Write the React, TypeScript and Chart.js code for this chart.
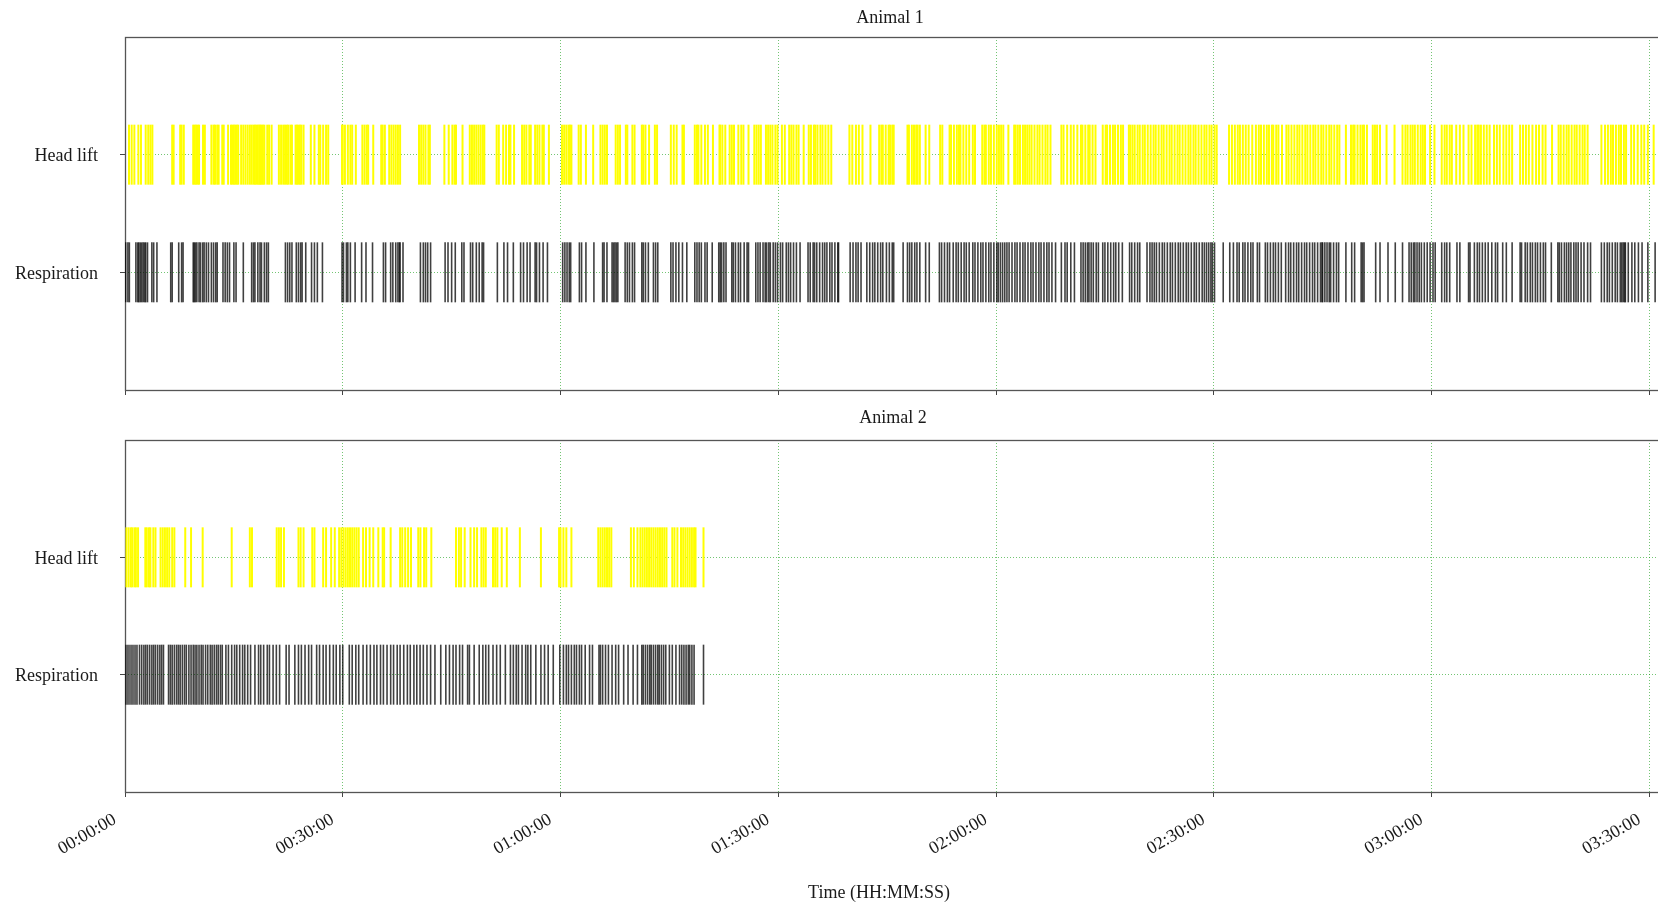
import React, { useEffect, useRef } from "react";
import { Chart, registerables } from "chart.js";

Chart.register(...registerables);

// ---------- data (times in minutes from start) ----------
const ROW_LABELS = ["Respiration", "Head lift"]; // y = 1, y = 2
const X_TICK_MINUTES = [0, 30, 60, 90, 120, 150, 180, 210];
const X_TICK_LABELS = ["00:00:00", "00:30:00", "01:00:00", "01:30:00", "02:00:00", "02:30:00", "03:00:00", "03:30:00"];
const X_MAX = 212.85;

const A1_HEAD = [
  0.55, 0.92, 1.29, 1.84, 2.2, 2.85, 3.2, 3.5, 3.77, 6.5, 6.7, 7.6, 7.8, 8.1,
  9.4, 9.6, 9.8, 10.0, 10.2, 10.75, 11.0, 11.9, 12.2, 12.4, 12.7, 12.9, 13.4, 13.6, 14.2, 14.6, 14.8, 15.0, 15.2, 15.4, 15.6,
  16.0, 16.3, 16.6, 16.9, 17.2, 17.45, 17.7, 17.9, 18.1, 18.3, 18.5, 18.65, 18.8, 19.0, 19.2, 19.6, 19.85, 20.2,
  21.2, 21.5, 21.8, 22.05, 22.3, 22.5, 22.8, 23.0, 23.5, 23.7, 23.9, 24.1, 24.3, 24.6, 25.6, 26.1, 26.7, 26.9, 27.3, 27.7, 28.0,
  29.9, 30.0, 30.3, 30.7, 31.05, 31.3, 31.8, 32.7, 33.0, 33.3, 33.5, 34.2, 35.3, 35.5, 35.8, 36.4, 36.7, 37.0, 37.3, 37.6, 37.9,
  40.5, 40.8, 41.1, 41.4, 41.8, 42.0, 44.0, 44.6, 45.1, 45.4, 45.6, 46.5, 47.5, 47.8, 48.1, 48.4, 48.7, 49.0, 49.3, 49.5, 51.2, 51.5,
  52.1, 52.5, 52.9, 53.1, 53.6, 54.7, 55.0, 55.3, 55.7, 55.9, 56.5, 56.8, 57.1, 57.5, 57.7, 58.4,
  60.2, 60.5, 60.8, 61.1, 61.3, 61.5, 62.5, 62.8, 63.5, 64.5, 65.5, 65.8, 66.1, 66.4, 67.6, 67.9, 68.2, 69.0, 69.2, 69.9, 70.2,
  71.2, 71.4, 71.7, 72.2, 73.0, 73.3, 75.2, 75.6, 76.0, 76.8, 77.0, 78.5, 78.8, 79.0, 79.4, 79.9, 80.3, 81.0, 81.9, 82.0, 82.3, 82.7,
  83.3, 83.6, 83.9, 84.5, 84.9, 85.2, 85.9, 86.7, 87.0, 87.3, 87.6, 88.3, 88.6, 88.9, 89.2, 89.6, 89.9, 90.5, 90.9, 91.5, 91.8, 92.1,
  92.5, 92.8, 93.5, 94.2, 94.5, 94.9, 95.1, 95.4, 95.8, 96.1, 96.5, 96.9, 97.3, 99.8, 100.2, 100.7, 101.1, 101.6, 102.7, 103.9, 104.2,
  104.4, 104.8, 105.2, 105.4, 105.7, 105.9, 107.8, 108.0, 108.4, 108.7, 109.0, 109.2, 109.5, 110.3, 110.8, 112.3, 112.6,
  113.6, 113.8, 114.2, 114.6, 114.9, 115.1, 115.5, 115.9, 116.3, 116.8, 117.1, 118.1, 118.4, 118.6, 119.0, 119.3, 119.7, 120.1, 120.4,
  120.7, 121.0, 121.7, 122.5, 122.7, 123.0, 123.3, 123.7, 124.0, 124.3, 124.6, 124.9, 125.3, 125.7, 126.0, 126.4, 126.8, 127.1, 127.5,
  129.0, 129.3, 129.8, 130.3, 130.7, 131.2, 131.7, 131.9, 132.3, 132.7, 132.9, 133.3, 133.7, 134.7, 135.1, 135.3, 135.7, 136.1, 136.4,
  136.8, 137.2, 137.5, 138.3, 138.5, 138.8, 139.1, 139.5, 139.8, 140.2, 140.5, 140.9, 141.3, 141.7, 142.0, 142.4, 142.8, 143.1, 143.5,
  143.9, 144.2, 144.6, 145.0, 145.3, 145.7, 146.1, 146.5, 146.8, 147.2, 147.5, 147.9, 148.3, 148.7, 149.0, 149.4, 149.7, 150.1, 150.4,
  152.1, 152.5, 152.9, 153.3, 153.6, 154.0, 154.4, 154.8, 155.3, 155.8, 156.2, 156.5, 156.9, 157.3, 157.6, 158.0, 158.2, 158.6, 158.9,
  159.4, 160.0, 160.3, 160.7, 161.1, 161.5, 161.8, 162.2, 162.6, 162.9, 163.3, 163.7, 164.0, 164.4, 164.8, 165.1, 165.5, 165.9, 166.2,
  166.6, 167.0, 167.3, 168.2, 168.9, 169.2, 169.4, 169.8, 170.2, 170.5, 170.7, 171.1, 171.9, 172.2, 172.5, 172.9, 173.8, 174.9,
  176.0, 176.4, 176.7, 177.1, 177.4, 177.7, 178.1, 178.5, 178.8, 179.1, 179.8, 180.4, 181.4, 181.8, 182.1, 182.5, 182.8, 183.4, 183.9,
  184.4, 185.1, 185.5, 186.0, 186.3, 186.5, 186.8, 187.2, 187.6, 188.0, 188.6, 189.0, 189.4, 189.9, 190.3, 190.7, 191.1, 192.2, 192.6,
  193.0, 193.4, 193.9, 194.4, 194.8, 195.3, 195.7, 196.6, 197.5, 197.8, 198.2, 198.6, 198.9, 199.3, 199.7, 200.0, 200.4, 200.8, 201.1,
  201.5, 203.4, 203.9, 204.3, 204.7, 205.0, 205.4, 205.8, 206.1, 206.5, 206.8, 207.5, 207.9, 208.4, 208.9, 209.3, 209.8, 210.6,
];

const A1_RESP = [
  0.1, 0.4, 0.6, 1.5, 1.75, 1.9, 2.1, 2.3, 2.5, 2.7, 2.85, 3.1, 3.7, 3.95, 4.4, 6.3, 6.5, 7.4, 7.8, 8.0,
  9.4, 9.55, 9.7, 9.9, 10.2, 10.4, 10.7, 10.9, 11.2, 11.5, 11.9, 12.2, 12.5, 12.7, 13.5, 13.8, 14.1, 14.4, 15.0, 15.3, 16.3,
  17.45, 17.7, 17.9, 18.3, 18.6, 18.8, 19.2, 19.5, 19.75, 22.1, 22.4, 22.7, 23.0, 23.6, 23.9, 24.2, 24.4, 24.9, 25.7, 26.1, 26.5, 27.2,
  29.9, 30.1, 30.5, 30.7, 31.05, 31.7, 32.6, 33.2, 34.1, 35.6, 35.9, 36.6, 36.9, 37.3, 37.6, 37.8, 37.9, 38.3,
  40.7, 41.1, 41.4, 41.7, 42.1, 44.1, 44.5, 45.0, 45.5, 46.4, 46.7, 47.6, 47.9, 48.4, 48.8, 49.2, 49.4, 51.3,
  52.2, 52.7, 53.5, 54.5, 54.9, 55.4, 55.8, 56.5, 56.7, 57.1, 57.6, 58.2, 60.3, 60.6, 60.9, 61.2, 61.4, 62.6, 62.9, 63.5, 64.6,
  65.8, 66.0, 66.4, 67.1, 67.3, 67.5, 67.7, 67.9, 68.9, 69.2, 69.5, 69.9, 70.2, 71.2, 71.4, 71.7, 72.1, 72.8, 73.1, 73.4,
  75.2, 75.5, 75.9, 76.3, 76.8, 77.4, 78.5, 78.8, 79.1, 79.4, 79.9, 80.2, 80.9, 81.8, 82.0, 82.2, 82.5, 82.8, 83.6, 83.8, 84.1,
  84.5, 84.8, 85.3, 85.7, 85.9, 86.9, 87.2, 87.5, 87.9, 88.2, 88.4, 88.7, 88.9, 89.3, 89.6, 89.9, 90.3, 90.6, 91.1, 91.4, 91.7,
  92.1, 92.5, 93.0, 94.1, 94.4, 94.8, 95.0, 95.3, 95.7, 96.1, 96.4, 96.7, 97.1, 97.4, 97.8, 98.2, 98.3,
  99.9, 100.3, 100.7, 101.0, 101.4, 102.2, 102.6, 103.0, 103.3, 103.7, 104.1, 104.4, 104.9, 105.3, 105.7, 105.9,
  107.2, 107.8, 108.1, 108.4, 108.8, 109.1, 109.5, 110.3, 110.8,
  112.2, 112.5, 112.9, 113.3, 113.6, 114.1, 114.5, 114.8, 115.2, 115.6, 115.9, 116.3, 116.8, 117.1, 117.5, 117.9, 118.2, 118.6,
  119.0, 119.3, 119.7, 120.1, 120.3, 120.6, 120.9, 121.2, 121.5, 121.8, 122.2, 122.6, 122.9, 123.3, 123.7, 124.0, 124.4, 124.8,
  125.1, 125.5, 125.9, 126.2, 126.6, 127.0, 127.3, 127.7, 128.2,
  129.0, 129.5, 129.8, 130.3, 130.8, 131.7, 132.0, 132.3, 132.6, 132.8, 133.1, 133.4, 133.8, 134.1, 134.7, 135.0, 135.4, 135.8,
  136.2, 136.5, 136.9, 137.4, 138.4, 138.7, 139.1, 139.5, 139.8, 140.8, 141.2, 141.5, 141.8, 142.1, 142.5, 142.9, 143.2, 143.6,
  144.0, 144.3, 144.7, 145.1, 145.4, 145.8, 146.2, 146.5, 146.9, 147.3, 147.6, 148.0, 148.4, 148.7, 149.0, 149.3, 149.6, 149.8, 150.1,
  151.3, 152.2, 152.7, 153.2, 153.5, 154.0, 154.3, 154.7, 155.1, 155.4, 156.0,
  156.3, 157.1, 157.4, 157.8, 158.2, 158.5, 158.9, 159.3, 159.9, 160.3, 160.6, 161.0, 161.4, 161.7, 162.1, 162.5, 162.8, 163.2,
  163.6, 163.9, 164.3, 164.7, 164.9, 165.0, 165.3, 165.6, 165.9, 166.1, 166.5, 166.9, 167.2,
  168.2, 169.0, 169.4, 170.3, 170.5, 170.7, 172.3, 172.9, 174.0, 175.0, 176.0, 176.9, 177.2, 177.5, 177.7, 178.0, 178.3, 178.6,
  179.0, 179.4, 179.8, 180.2, 180.5, 181.4, 181.8, 182.1, 182.5, 183.5, 183.9, 185.1, 185.3, 185.9, 186.3, 186.6, 187.0, 187.4,
  187.8, 188.3, 188.8, 189.1, 189.8, 190.3, 191.1, 192.2, 192.4, 192.9, 193.2, 193.6, 193.9, 194.3, 194.6, 195.0, 195.4, 195.7,
  196.5, 197.4, 197.6, 197.9, 198.3, 198.6, 198.9, 199.2, 199.6, 199.9, 200.2, 200.6, 201.0, 201.5, 201.9,
  203.4, 203.8, 204.2, 204.5, 204.9, 205.3, 205.6, 206.0, 206.2, 206.4, 206.6, 206.7, 207.1, 207.6, 208.0, 208.5, 209.0, 209.8, 210.8,
];

const A2_HEAD = [
  0.2, 0.5, 0.8, 1.0, 1.3, 1.5, 1.8, 2.8, 3.0, 3.3, 3.5, 3.9, 4.2, 4.9, 5.2, 5.5, 5.8, 6.1, 6.5, 6.8, 8.3, 9.1, 10.7,
  14.7, 17.2, 17.5, 20.9, 21.2, 21.5, 21.9, 23.9, 24.2, 24.6, 25.8, 26.1, 27.3, 27.7, 28.4, 28.9,
  29.5, 29.8, 30.1, 30.4, 30.7, 31.0, 31.3, 31.6, 31.9, 32.2, 32.8, 33.2, 33.7, 34.2, 34.9, 35.5, 35.7, 36.6,
  37.9, 38.2, 38.6, 39.0, 39.4, 40.4, 40.7, 41.2, 41.5, 42.2, 45.6, 46.0, 46.3, 46.8, 47.6, 48.1, 48.5, 49.1, 49.4, 49.7,
  50.7, 51.0, 51.3, 51.9, 52.6, 54.4, 57.3, 59.8, 60.0, 60.4, 60.8, 61.5, 65.2, 65.5, 65.8, 66.1, 66.4, 66.7, 67.0,
  69.7, 70.1, 70.6, 71.0, 71.3, 71.6, 71.9, 72.2, 72.5, 72.8, 73.1, 73.4, 73.7, 74.0, 74.3, 74.6, 75.4, 75.7, 76.1,
  76.6, 76.9, 77.2, 77.5, 77.8, 78.1, 78.4, 78.6, 79.7,
];

const A2_RESP = [
  0.0, 0.28, 0.55, 0.83, 1.1, 1.38, 1.65, 2.0, 2.3, 2.6, 2.85, 3.1, 3.4, 3.7, 3.95, 4.2, 4.5, 4.8, 5.05, 5.3,
  6.0, 6.25, 6.5, 6.8, 7.1, 7.35, 7.6, 7.9, 8.2, 8.45, 8.8, 9.1, 9.4, 9.65, 9.9, 10.2, 10.5, 10.75, 11.1, 11.4, 11.75,
  12.0, 12.3, 12.6, 12.85, 13.15, 13.4, 13.9, 14.25, 14.7, 15.1, 15.4, 15.8, 16.2, 16.5, 16.9, 17.3, 17.9, 18.4, 18.7,
  19.1, 19.6, 19.9, 20.4, 20.85, 21.3, 22.2, 22.6, 23.4, 23.9, 24.3, 24.8, 25.3, 25.7, 26.4, 26.8, 27.3, 27.7, 28.2,
  28.7, 29.1, 29.6, 30.0, 30.9, 31.3, 31.8, 32.2, 32.8, 33.3, 33.8, 34.3, 34.7, 35.2, 35.6, 36.1, 36.6, 37.0, 37.5,
  37.9, 38.4, 38.9, 39.3, 39.8, 40.2, 40.65, 41.1, 41.6, 42.1, 42.7, 43.5, 44.2, 44.7, 45.2, 45.6, 46.1, 46.5, 47.2,
  47.45, 48.1, 48.8, 49.3, 49.7, 50.1, 50.7, 51.2, 51.7, 52.4, 53.1, 53.5, 53.9, 54.2, 54.7, 55.2, 55.5, 55.9, 56.6,
  57.3, 57.8, 58.3, 59.0, 59.9, 60.4, 60.8, 61.1, 61.5, 61.9, 62.2, 62.6, 62.9, 63.4, 64.0, 64.4, 65.3, 65.5, 65.8,
  66.2, 66.6, 67.1, 67.6, 68.0, 68.7, 69.3, 70.0, 70.6, 71.2, 71.4, 71.7, 72.0, 72.3, 72.5, 72.8, 73.1, 73.4, 73.6,
  73.9, 74.2, 74.5, 75.0, 75.4, 75.9, 76.4, 76.7, 77.0, 77.3, 77.6, 77.8, 78.1, 78.4, 79.7,
];

// ---------- styles ----------
const FONT = "'Liberation Serif', 'Times New Roman', serif";
const TEXT_COLOR = "#1a1a1a";
const GRID_COLOR = "rgba(0,150,0,0.55)";
const FRAME_COLOR = "#555555";
const HEAD_COLOR = "#ffff00";
const RESP_COLOR = "rgba(0,0,0,0.75)";
const CANVAS_W = 1670;

const panelDecor = {
  id: "panelDecor",
  beforeDatasetsDraw(chart: any) {
    const { ctx, chartArea: a } = chart;
    ctx.save();
    ctx.strokeStyle = FRAME_COLOR;
    ctx.lineWidth = 1.3;
    ctx.setLineDash([]);
    ctx.strokeRect(Math.round(a.left) + 0.5, Math.round(a.top) + 0.5, a.right - a.left + 5, Math.round(a.bottom - a.top));
    ctx.restore();
  },
  afterDraw(chart: any, _args: any, opts: any) {
    const { ctx, chartArea: a } = chart;
    ctx.save();
    ctx.font = `18px ${FONT}`;
    ctx.fillStyle = TEXT_COLOR;
    ctx.textAlign = "center";
    ctx.textBaseline = "middle";
    if (opts.title) ctx.fillText(opts.title, a.left + opts.titleDx, a.top - opts.titleDy);
    if (opts.xTitle) ctx.fillText(opts.xTitle, a.left + opts.xTitleDx, a.bottom + opts.xTitleDy);
    ctx.restore();
  },
};

function makeConfig(head: number[], resp: number[], p: any) {
  const tickFont = { family: FONT, size: 18 };
  const gridCommon = {
    color: GRID_COLOR,
    lineWidth: 1,
    borderDash: [1, 2],
    tickLength: 5,
    tickColor: "#444",
    tickWidth: 1,
    tickBorderDash: [],
  };
  return {
    type: "scatter" as const,
    data: {
      datasets: [
        {
          label: "Head lift",
          data: head.map((t) => ({ x: t, y: 2 })),
          pointStyle: "line",
          pointRotation: 90,
          pointRadius: 30,
          pointHoverRadius: 30,
          pointBorderColor: HEAD_COLOR,
          pointBackgroundColor: HEAD_COLOR,
          pointBorderWidth: 2,
          showLine: false,
        },
        {
          label: "Respiration",
          data: resp.map((t) => ({ x: t, y: 1 })),
          pointStyle: "line",
          pointRotation: 90,
          pointRadius: 30,
          pointHoverRadius: 30,
          pointBorderColor: RESP_COLOR,
          pointBackgroundColor: RESP_COLOR,
          pointBorderWidth: 1.6,
          showLine: false,
        },
      ],
    },
    options: {
      animation: false,
      responsive: false,
      maintainAspectRatio: false,
      devicePixelRatio: 1,
      events: [],
      layout: { autoPadding: false, padding: { top: p.padTop, left: 0, right: 0, bottom: 0 } },
      plugins: {
        legend: { display: false },
        tooltip: { enabled: false },
        title: { display: false },
        panelDecor: p.decor,
      },
      scales: {
        x: {
          type: "linear",
          min: 0,
          max: X_MAX,
          afterBuildTicks: (s: any) => {
            s.ticks = X_TICK_MINUTES.map((v) => ({ value: v }));
          },
          afterFit: (s: any) => {
            s.height = p.xAxisHeight;
            s.paddingLeft = 0;
            s.paddingRight = 0;
          },
          grid: gridCommon,
          border: { display: false, dash: [1, 2] },
          ticks: {
            display: p.showXLabels,
            autoSkip: false,
            minRotation: 30,
            maxRotation: 30,
            padding: p.xTickPad,
            labelOffset: -10,
            font: tickFont,
            color: TEXT_COLOR,
            callback: (v: number) => {
              const i = X_TICK_MINUTES.indexOf(v);
              return i >= 0 ? X_TICK_LABELS[i] : "";
            },
          },
        },
        y: {
          type: "linear",
          min: 0,
          max: 3,
          afterBuildTicks: (s: any) => {
            s.ticks = [{ value: 1 }, { value: 2 }];
          },
          afterFit: (s: any) => {
            s.width = 125;
            s.paddingTop = 0;
            s.paddingBottom = 0;
          },
          grid: gridCommon,
          border: { display: false, dash: [1, 2] },
          ticks: {
            padding: 22,
            labelOffset: 2,
            font: tickFont,
            color: TEXT_COLOR,
            callback: (v: number) => ROW_LABELS[v - 1] ?? "",
          },
        },
      },
    },
    plugins: [panelDecor],
  };
}

function Panel(props: { head: number[]; resp: number[]; p: any; top: number; height: number }) {
  const ref = useRef<HTMLCanvasElement | null>(null);
  useEffect(() => {
    if (!ref.current) return;
    const chart = new Chart(ref.current, makeConfig(props.head, props.resp, props.p) as any);
    return () => chart.destroy();
  }, []);
  return (
    <canvas
      ref={ref}
      width={CANVAS_W}
      height={props.height}
      style={{ position: "absolute", left: 0, top: props.top, width: CANVAS_W, height: props.height, display: "block" }}
    />
  );
}

export default function App() {
  return (
    <div
      style={{
        position: "fixed",
        left: 0,
        top: 0,
        width: 1658,
        height: 906,
        overflow: "hidden",
        background: "#ffffff",
      }}
    >
      <Panel
        head={A1_HEAD}
        resp={A1_RESP}
        top={0}
        height={398}
        p={{
          padTop: 37,
          xAxisHeight: 8,
          showXLabels: false,
          xTickPad: 4,
          decor: { title: "Animal 1", titleDx: 765, titleDy: 19 },
        }}
      />
      <Panel
        head={A2_HEAD}
        resp={A2_RESP}
        top={400}
        height={506}
        p={{
          padTop: 40,
          xAxisHeight: 114,
          showXLabels: true,
          xTickPad: 12,
          decor: {
            title: "Animal 2",
            titleDx: 768,
            titleDy: 22,
            xTitle: "Time (HH:MM:SS)",
            xTitleDx: 754,
            xTitleDy: 101,
          },
        }}
      />
    </div>
  );
}
